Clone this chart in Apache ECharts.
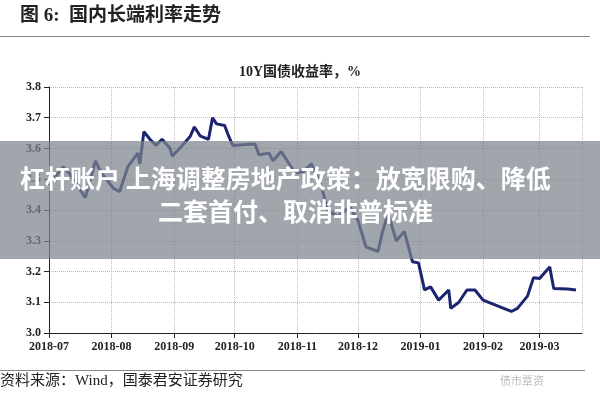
<!DOCTYPE html>
<html>
<head>
<meta charset="utf-8">
<script src="https://cdn.jsdelivr.net/npm/echarts@6/dist/echarts.min.js"></script>
<style>html,body{margin:0;padding:0;background:#fff}#c{width:600px;height:400px}</style>
</head>
<body>
<div id="c"></div>
<script>
// 10Y govt bond yield
const dates = ['2018-07-01','2018-07-08','2018-07-11','2018-07-19','2018-07-24','2018-07-27',
  '2018-08-02','2018-08-05','2018-08-09','2018-08-14','2018-08-15','2018-08-17','2018-08-20',
  '2018-08-23','2018-08-26','2018-08-30','2018-08-31','2018-09-05','2018-09-09','2018-09-11',
  '2018-09-14','2018-09-18','2018-09-20','2018-09-22','2018-09-26','2018-09-28','2018-09-30',
  '2018-10-11','2018-10-13','2018-10-18','2018-10-20','2018-10-24','2018-10-29','2018-10-31',
  '2018-11-04','2018-11-08','2018-11-13','2018-11-16','2018-11-21','2018-11-27','2018-12-01',
  '2018-12-05','2018-12-11','2018-12-13','2018-12-16','2018-12-20','2018-12-24','2018-12-28',
  '2018-12-31','2019-01-03','2019-01-06','2019-01-10','2019-01-15','2019-01-16','2019-01-20',
  '2019-01-24','2019-01-28','2019-02-01','2019-02-15','2019-02-18','2019-02-23','2019-02-26',
  '2019-03-01','2019-03-06','2019-03-08','2019-03-15','2019-03-19'];
const yields = [3.48,3.54,3.52,3.44,3.56,3.52,
  3.47,3.46,3.54,3.585,3.55,3.655,3.63,
  3.61,3.63,3.60,3.575,3.61,3.64,3.67,
  3.64,3.63,3.70,3.68,3.675,3.64,3.61,
  3.615,3.58,3.585,3.56,3.59,3.54,3.52,
  3.525,3.55,3.476,3.40,3.378,3.41,3.367,
  3.28,3.265,3.325,3.39,3.30,3.33,3.232,
  3.228,3.14,3.15,3.107,3.14,3.08,3.10,
  3.14,3.14,3.107,3.07,3.08,3.12,3.18,
  3.177,3.215,3.145,3.143,3.14];

const chart = echarts.init(document.getElementById('c'));
const serif = '"Liberation Serif","Noto Sans CJK SC",serif';
chart.setOption({
  animation: false,
  title: {
    text: '10Y国债收益率，%', left: 'center', top: 60,
    textStyle: { fontFamily: serif, fontSize: 14, fontWeight: 'bold', color: '#222' }
  },
  grid: { left: 49, right: 18, top: 87, bottom: 67 },
  xAxis: {
    type: 'time',
    min: '2018-07-01', max: '2019-03-22',
    splitNumber: 9,
    axisLine: { lineStyle: { color: '#222' } },
    axisTick: { show: true, lineStyle: { color: '#222' } },
    axisLabel: { formatter: '{yyyy}-{MM}', color: '#222', fontFamily: serif, fontWeight: 'bold', fontSize: 12, hideOverlap: false },
    splitLine: { show: true, lineStyle: { type: 'dotted', color: '#bbb' } }
  },
  yAxis: {
    type: 'value', min: 3.0, max: 3.8, interval: 0.1,
    axisLine: { show: true, lineStyle: { color: '#222' } },
    axisTick: { show: true, lineStyle: { color: '#222' } },
    axisLabel: { formatter: v => v.toFixed(1), color: '#222', fontFamily: serif, fontWeight: 'bold', fontSize: 12 },
    splitLine: { lineStyle: { type: 'dotted', color: '#bbb' } }
  },
  series: [{
    type: 'line', data: dates.map((d, i) => [d, yields[i]]),
    showSymbol: false, lineStyle: { color: '#1c2470', width: 3 }
  }],
  graphic: [
    { type: 'text', left: 20, top: 7, style: { text: '图 6:  国内长端利率走势', fontFamily: serif, fontSize: 19, fontWeight: 'bold', fill: '#222' } },
    { type: 'rect', shape: { x: 0, y: 36, width: 590, height: 1 }, style: { fill: '#888' } },
    { type: 'rect', shape: { x: 0, y: 370, width: 585, height: 1 }, style: { fill: '#888' } },
    { type: 'text', left: 0, top: 374, style: { text: '资料来源：Wind，国泰君安证券研究', fontFamily: serif, fontSize: 15, fill: '#222' } },
    { type: 'text', left: 500, top: 375, style: { text: '债市覃资', fontFamily: '"Noto Sans CJK SC"', fontSize: 11, fill: '#bbb' } },
    { type: 'rect', shape: { x: 0, y: 141, width: 600, height: 118 }, style: { fill: 'rgba(125,131,141,0.72)' }, z: 100 },
    { type: 'text', left: 20, top: 166, z: 101, style: { text: '杠杆账户 上海调整房地产政策：放宽限购、降低', fontFamily: '"Noto Sans CJK SC"', fontSize: 25, fontWeight: 'bold', fill: '#fff' } },
    { type: 'text', left: 158, top: 199, z: 101, style: { text: '二套首付、取消非普标准', fontFamily: '"Noto Sans CJK SC"', fontSize: 25, fontWeight: 'bold', fill: '#fff' } }
  ]
});
</script>
</body>
</html>
